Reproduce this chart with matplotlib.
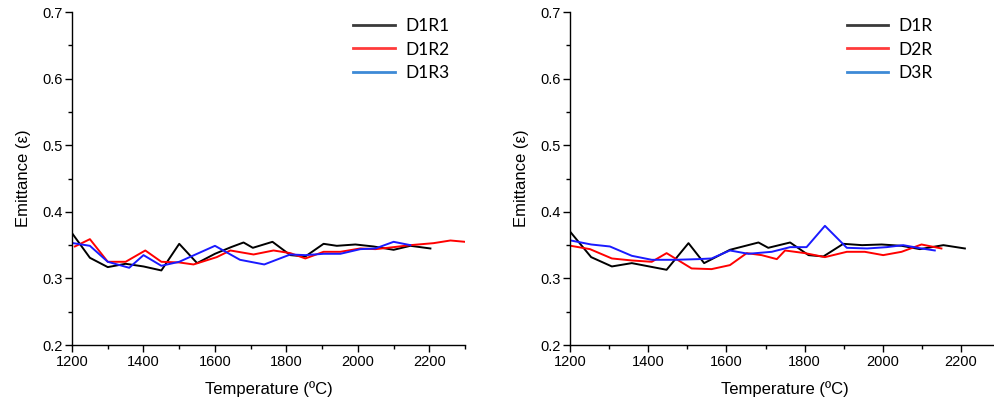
import matplotlib
matplotlib.use("Agg")
import matplotlib.pyplot as plt
from matplotlib.lines import Line2D
from matplotlib.ticker import MultipleLocator

plt.rcParams['font.family'] = ['Liberation Sans', 'DejaVu Sans']

# Left panel: D1R1, D1R2, D1R3
t_d1r1 = [1200, 1250, 1300, 1350, 1400, 1450, 1500, 1550, 1600, 1645, 1680, 1706, 1761,
          1811, 1853, 1904, 1941, 1993, 2044, 2100, 2147, 2203]
e_d1r1 = [0.368, 0.331, 0.317, 0.322, 0.318, 0.312, 0.352, 0.323, 0.337, 0.347, 0.354,
          0.346, 0.355, 0.335, 0.333, 0.352, 0.349, 0.351, 0.348, 0.343, 0.349, 0.345]

t_d1r2 = [1208, 1250, 1300, 1350, 1405, 1450, 1500, 1540, 1605, 1643, 1708, 1764,
          1811, 1853, 1904, 1951, 2007, 2049, 2100, 2147, 2212, 2259, 2300]
e_d1r2 = [0.348, 0.359, 0.325, 0.325, 0.342, 0.325, 0.324, 0.321, 0.332, 0.342, 0.336,
          0.342, 0.338, 0.330, 0.340, 0.340, 0.345, 0.344, 0.347, 0.350, 0.353, 0.357, 0.355]

t_d1r3 = [1203, 1250, 1300, 1360, 1400, 1450, 1500, 1600, 1670, 1738, 1811, 1853,
          1904, 1951, 2007, 2049, 2100, 2147]
e_d1r3 = [0.353, 0.349, 0.325, 0.316, 0.335, 0.319, 0.325, 0.349, 0.328, 0.321, 0.336,
          0.335, 0.337, 0.337, 0.344, 0.345, 0.355, 0.350]

# Right panel: D1R, D2R, D3R
t_d1r = [1202, 1254, 1307, 1358, 1447, 1503, 1543, 1609, 1682, 1707, 1763, 1810, 1848,
         1899, 1947, 1997, 2048, 2095, 2155, 2210]
e_d1r = [0.369, 0.332, 0.318, 0.323, 0.313, 0.353, 0.323, 0.343, 0.354, 0.346, 0.354,
         0.335, 0.333, 0.352, 0.350, 0.351, 0.349, 0.344, 0.350, 0.345]

t_d2r = [1202, 1251, 1307, 1358, 1409, 1447, 1511, 1562, 1609, 1652, 1690, 1729, 1750,
         1801, 1852, 1908, 1954, 2001, 2048, 2099, 2150]
e_d2r = [0.349, 0.344, 0.330, 0.327, 0.325, 0.338, 0.315, 0.314, 0.320, 0.338, 0.335,
         0.329, 0.342, 0.338, 0.332, 0.340, 0.340, 0.335, 0.340, 0.351, 0.345]

t_d3r = [1202, 1254, 1302, 1358, 1409, 1469, 1528, 1562, 1609, 1656, 1716, 1763, 1805,
         1852, 1908, 1960, 2010, 2052, 2099, 2133]
e_d3r = [0.357, 0.351, 0.348, 0.334, 0.328, 0.328, 0.329, 0.330, 0.342, 0.337, 0.340,
         0.347, 0.347, 0.379, 0.346, 0.345, 0.347, 0.350, 0.345, 0.342]

x_ticks = [1200, 1400, 1600, 1800, 2000, 2200]
y_ticks = [0.2, 0.3, 0.4, 0.5, 0.6, 0.7]

line_colors = ['black', '#ff0000', '#1a1aff']
legend_colors = ['#3a3a3a', '#ff3b3b', '#3d8ad6']

fig = plt.figure(figsize=(9.95, 4.04), dpi=100)
ax1 = fig.add_axes([0.0724, 0.146, 0.395, 0.824])
ax2 = fig.add_axes([0.5729, 0.146, 0.4322, 0.824])


def style_axis(ax, xmax):
    ax.set_xlim(1200, xmax)
    ax.set_ylim(0.2, 0.7)
    ax.set_xticks(x_ticks)
    ax.set_yticks(y_ticks)
    ax.set_yticklabels([f"{v:.1f}" for v in y_ticks])
    ax.xaxis.set_minor_locator(MultipleLocator(100))
    ax.yaxis.set_minor_locator(MultipleLocator(0.05))
    for side in ('top', 'right'):
        ax.spines[side].set_visible(False)
    for side in ('left', 'bottom'):
        ax.spines[side].set_linewidth(1.0)
    ax.tick_params(which='major', direction='out', length=5, width=1.0,
                   labelsize=10.5, colors='black', pad=2)
    ax.tick_params(which='minor', direction='out', length=3, width=1.0)
    ax.set_xlabel('Temperature (\u00baC)', fontsize=12, labelpad=9)
    ax.set_ylabel('Emittance (\u03b5)', fontsize=12, labelpad=8)
    ax.set_facecolor('none')


def add_legend(ax, labels):
    handles = [Line2D([], [], color=c, lw=2) for c in legend_colors]
    leg = ax.legend(handles, labels, loc='upper right', frameon=False,
                    prop={'family': 'Lato', 'size': 12.5}, handlelength=2.4,
                    handletextpad=0.6, labelspacing=0.45,
                    bbox_to_anchor=(1.0, 1.03))
    return leg


series_left = [(t_d1r1, e_d1r1), (t_d1r2, e_d1r2), (t_d1r3, e_d1r3)]
for (t, e), c in zip(series_left, line_colors):
    ax1.plot(t, e, color=c, lw=1.4)
style_axis(ax1, 2300)
leg1 = add_legend(ax1, ['D1R1', 'D1R2', 'D1R3'])

series_right = [(t_d1r, e_d1r), (t_d2r, e_d2r), (t_d3r, e_d3r)]
for (t, e), c in zip(series_right, line_colors):
    ax2.plot(t, e, color=c, lw=1.4)
style_axis(ax2, 2300)
leg2 = add_legend(ax2, ['D1R', 'D2R', 'D3R'])
leg2.set_bbox_to_anchor((0.88, 1.03), transform=ax2.transAxes)

fig.savefig('out.png', dpi=100)
